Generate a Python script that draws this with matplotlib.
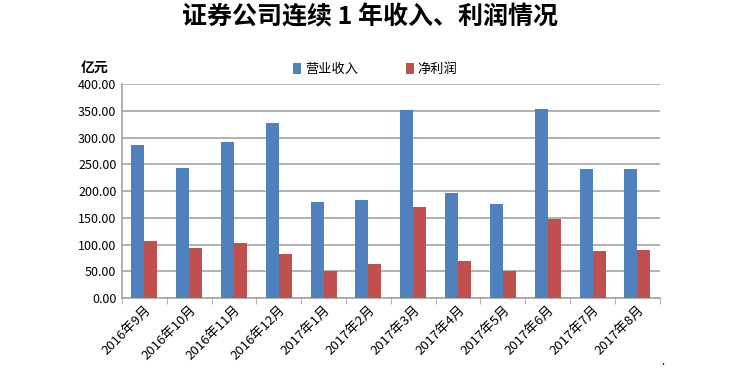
import matplotlib
matplotlib.use('Agg')
import matplotlib.pyplot as plt
import numpy as np

plt.rcParams['font.family'] = ['Noto Sans CJK SC', 'DejaVu Sans']

months = ['2016年9月', '2016年10月', '2016年11月', '2016年12月', '2017年1月', '2017年2月',
          '2017年3月', '2017年4月', '2017年5月', '2017年6月', '2017年7月', '2017年8月']
revenue = [285.5, 243.2, 291.1, 327.2, 179.2, 182.9, 350.9, 197.2, 175.4, 353.3, 241.4, 241.4]
profit = [107.6, 93.3, 102.6, 82.1, 51.0, 64.1, 170.5, 69.7, 51.0, 148.1, 87.7, 89.6]

fig = plt.figure(figsize=(7.48, 3.69), dpi=100)
ax = fig.add_axes([0.163, 0.192, 0.719, 0.580])

x = np.arange(len(months))
w = 0.29
ax.bar(x - w / 2, revenue, w, color='#4F81BD', label='营业收入', zorder=3)
ax.bar(x + w / 2, profit, w, color='#C0504D', label='净利润', zorder=3)

ax.set_xlim(-0.5, len(months) - 0.5)
ax.set_ylim(0, 400)
ax.set_yticks(np.arange(0, 401, 50))
ax.set_yticklabels(['%.2f' % v for v in np.arange(0, 401, 50)], fontsize=9)
ax.yaxis.grid(True, color='#a6a6a6', linewidth=1.2, zorder=0)
ax.tick_params(axis='y', length=0, pad=4)

ax.set_xticks(x)
ax.set_xticklabels(months, rotation=45, ha='right', rotation_mode='anchor', fontsize=9.5)
ax.tick_params(axis='x', length=0, pad=4)
ax.set_xticks(np.arange(-0.5, len(months), 1), minor=True)
ax.tick_params(axis='x', which='minor', length=4, color='#a6a6a6', direction='out')

for s in ['top', 'right']:
    ax.spines[s].set_visible(False)
for s in ['left', 'bottom']:
    ax.spines[s].set_color('#a6a6a6')
    ax.spines[s].set_linewidth(1.2)

fig.text(0.495, 0.952, '证券公司连续 1 年收入、利润情况', ha='center', va='center',
         fontsize=18, fontweight='bold')
fig.text(0.126, 0.815, '亿元', ha='center', va='center', fontsize=10, fontweight='bold')

leg = ax.legend(loc='lower left', bbox_to_anchor=(0.392, 0.795), bbox_transform=fig.transFigure,
                ncol=2, frameon=False, borderaxespad=0, borderpad=0,
                fontsize=9.5, handlelength=0.6, handleheight=0.9, handletextpad=0.3,
                columnspacing=3.6)

fig.text(0.884, 0.012, '.', fontsize=8)

plt.savefig('out.png', dpi=100)
